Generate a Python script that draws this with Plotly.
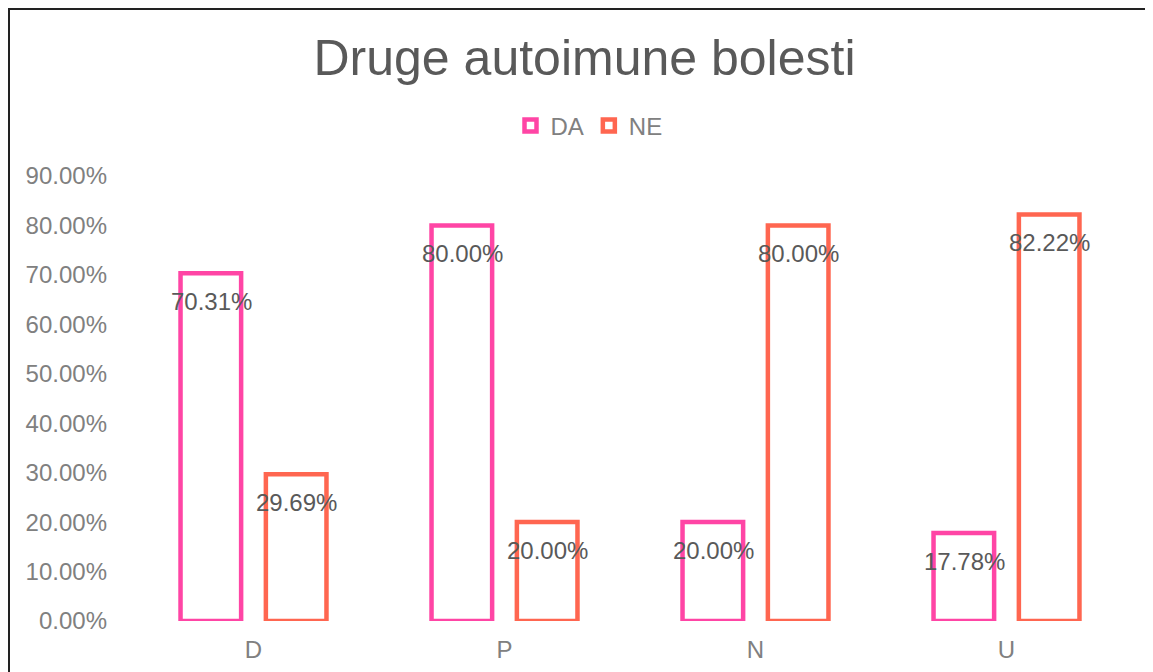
import plotly.graph_objects as go

categories = ["D", "P", "N", "U"]
da_values = [70.31, 80.00, 20.00, 17.78]
ne_values = [29.69, 20.00, 80.00, 82.22]
series_names = ["DA", "NE"]
colors = ["#FF45A5", "#FF6650"]
y_ticks = [0, 10, 20, 30, 40, 50, 60, 70, 80, 90]
y_ticklabels = [f"{v:.2f}%" for v in y_ticks]

FONT = "Liberation Sans, Arial, sans-serif"

L, R, T, B = 120, 29, 168, 59
W, H = 1153, 672
pw, ph = W - L - R, H - T - B

fig = go.Figure()
for name, vals, col in zip(series_names, [da_values, ne_values], colors):
    fig.add_trace(go.Bar(
        x=categories, y=vals, name=name,
        marker=dict(color="white", line=dict(color=col, width=4.5)),
        hoverinfo="skip",
    ))

# data labels near the top inside each bar
offsets = [-42.5, 42.5]
annotations = []
for vals, dx in zip([da_values, ne_values], offsets):
    for c, v in zip(categories, vals):
        annotations.append(dict(
            x=c, y=v, xref="x", yref="y", text=f"{v:.2f}%",
            showarrow=False, xshift=dx, yshift=-28,
            font=dict(family=FONT, size=24, color="#595959"),
        ))

fig.update_layout(
    width=W, height=H,
    paper_bgcolor="white", plot_bgcolor="white",
    margin=dict(l=L, r=R, t=T, b=B),
    title=dict(text="Druge autoimune bolesti", x=0.5, xanchor="center",
               y=1 - 49 / H, yanchor="middle",
               font=dict(family=FONT, size=50, color="#595959")),
    legend=dict(orientation="h", x=(581 - L) / pw, xanchor="center",
                y=(H - B - 118) / ph, yanchor="middle", itemwidth=30,
                font=dict(family=FONT, size=24, color="#808080")),
    barmode="group", bargap=0.32, bargroupgap=0.29,
    annotations=annotations,
    shapes=[dict(type="rect", xref="paper", yref="paper",
                 x0=(1 - L) / pw, x1=(W + 10 - L) / pw,
                 y0=(-10 - B) / ph, y1=(H - B - 1) / ph,
                 line=dict(color="#222222", width=2), fillcolor="rgba(0,0,0,0)")],
    showlegend=True,
)
fig.update_xaxes(showgrid=False, showline=False, zeroline=False, ticks="",
                 ticklabelstandoff=12,
                 tickfont=dict(family=FONT, size=24, color="#808080"))
fig.update_yaxes(range=[0, 90], tickvals=y_ticks, ticktext=y_ticklabels,
                 showgrid=False, showline=False, zeroline=False, ticks="",
                 ticklabelstandoff=20,
                 tickfont=dict(family=FONT, size=24, color="#808080"))

fig.write_html("out.html")
